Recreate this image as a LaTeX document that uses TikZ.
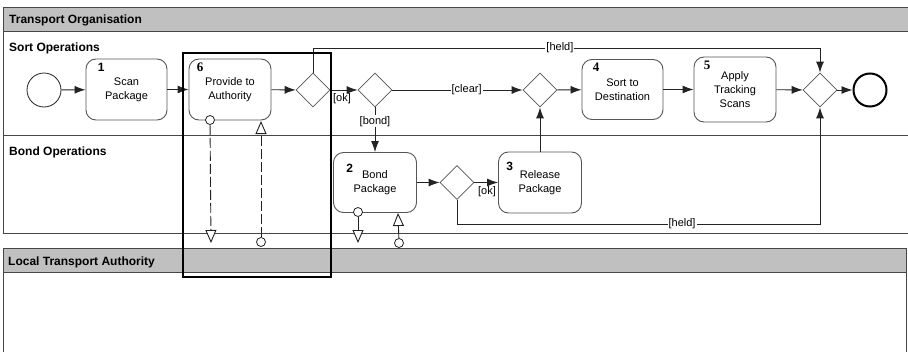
\documentclass[tikz,border=0pt]{standalone}
\usepackage{fontspec}
\setmainfont{Liberation Sans}
\newfontfamily\serifnum{Liberation Serif}
\usetikzlibrary{arrows.meta,shapes.geometric,calc}
\definecolor{headgray}{RGB}{192,192,192}
\definecolor{linegray}{RGB}{35,35,35}
\definecolor{taskgray}{RGB}{85,85,85}
\definecolor{poolgray}{RGB}{70,70,70}
\tikzset{
 lanefont/.style={font=\fontsize{12}{14}\selectfont\bfseries, anchor=base west, inner sep=0pt},
 task/.style={draw=taskgray, rounded corners=10pt, align=center, font=\fontsize{11}{14}\selectfont, inner sep=2pt, line width=0.9pt},
 gate/.style={diamond, draw=taskgray, minimum width=34pt, minimum height=34pt, inner sep=0pt, line width=0.8pt},
 flow/.style={draw=linegray, line width=0.9pt, -{Latex[length=11pt,width=8pt]}},
 lbl/.style={font=\fontsize{11}{13}\selectfont, fill=white, inner sep=1pt},
 sidelbl/.style={font=\fontsize{11}{13}\selectfont, inner sep=0pt, anchor=north},
 sansnum/.style={font=\fontsize{12}{14}\selectfont\bfseries, anchor=base west, inner sep=0pt},
 serifnumst/.style={font=\fontsize{13}{14}\selectfont\serifnum\bfseries, anchor=base west, inner sep=0pt},
 port/.style={circle, draw=linegray, fill=white, minimum size=9pt, inner sep=0pt, line width=0.8pt},
 msg/.style={draw=linegray, line width=0.9pt, -{Triangle[length=13pt,width=11pt,fill=white]}},
 msgdash/.style={msg, dash pattern=on 10pt off 3pt},
}
\begin{document}
\begin{tikzpicture}[x=1pt,y=-1pt]
\useasboundingbox (0,0) rectangle (908,351);
\clip (0,0) rectangle (908,351);
% pools and lanes
\fill[white] (0,0) rectangle (908,351);
\fill[headgray] (3,7) rectangle (912,31);
\draw[poolgray, line width=0.9pt] (3,7) rectangle (912,233);
\draw[poolgray, line width=0.9pt] (3,31) -- (912,31);
\draw[poolgray, line width=0.9pt] (3,135) -- (912,135);
\fill[headgray] (3,248) rectangle (906,272);
\draw[poolgray, line width=0.9pt] (3,248) rectangle (906,360);
\draw[poolgray, line width=0.9pt] (3,272) -- (906,272);
\node[lanefont] (lto) at (9,23) {Transport Organisation};
\node[lanefont] (lso) at (9,51) {Sort Operations};
\node[lanefont] (lbo) at (9,155) {Bond Operations};
\node[lanefont] (llta) at (8,265) {Local Transport Authority};
% events
\node[circle, draw=linegray, line width=0.8pt, minimum size=34pt, inner sep=0pt] (start) at (44,90) {};
\node[circle, draw=black, line width=2pt, minimum size=33pt, inner sep=0pt] (end) at (870,90) {};
% tasks
\node[task, minimum width=81pt, minimum height=61pt] (t1) at (126.5,89.5) {Scan\\Package};
\node[task, minimum width=82pt, minimum height=61pt] (t6) at (230,89.5) {Provide to\\Authority};
\node[task, minimum width=81pt, minimum height=60pt] (t4) at (622.5,89.5) {Sort to\\Destination};
\node[task, minimum width=82pt, minimum height=65pt] (t5) at (735,89.5) {Apply\\Tracking\\Scans};
\node[task, minimum width=83pt, minimum height=60pt] (t2) at (375,182.5) {Bond\\Package};
\node[task, minimum width=83pt, minimum height=61pt] (t3) at (540,182.5) {Release\\Package};
% numbers
\node[sansnum] (n1) at ($(t1.north west)+(12,13)$) {1};
\node[serifnumst] (n6) at ($(t6.north west)+(8,13)$) {6};
\node[serifnumst] (n4) at ($(t4.north west)+(11,12)$) {4};
\node[serifnumst] (n5) at ($(t5.north west)+(10,13)$) {5};
\node[sansnum] (n2) at ($(t2.north west)+(13,20)$) {2};
\node[sansnum] (n3) at ($(t3.north west)+(8,19)$) {3};
% gateways
\node[gate] (g1) at (313,90) {};
\node[gate] (g2) at (375,90) {};
\node[gate] (g3) at (540,90) {};
\node[gate] (g4) at (820,90) {};
\node[gate] (g5) at (457,182.5) {};
% sequence flows
\draw[flow] (g1) -- (g2);
\node[sidelbl] (lok1) at (342,93) {[ok]};
\coordinate (hA) at (313,48);
\coordinate (hB) at (820,48);
\draw[flow] (g1.north) -- (hA) -- node[lbl, pos=0.487] (lheld1) {[held]} (hB) -- (g4.north);
\draw[flow] (start) -- (t1);
\draw[flow] (t1) -- (t6);
\draw[flow] (t6) -- (g1);
\draw[flow] (g2) -- node[lbl, pos=0.57] (lclear) {[clear]} (g3);
\draw[flow] (g2) -- node[lbl, pos=0.31] (lbond) {[bond]} (t2);
\draw[flow] (g3) -- (t4);
\draw[flow] (t4) -- (t5);
\draw[flow] (t5) -- (g4);
\draw[flow] (g4) -- (end);
\draw[flow] (t2) -- (g5);
\draw[flow] (g5) -- (t3);
\node[sidelbl] (lok2) at (487,186) {[ok]};
\draw[flow] (t3) -- (g3);
\coordinate (hC) at (457,224);
\coordinate (hD) at (820,224);
\draw[flow] (g5.south) -- (hC) -- node[lbl, pos=0.62] (lheld2) {[held]} (hD) -- (g4.south);
% message / data associations
\node[port] (p1) at (210,120) {};
\coordinate (m1) at (211,243);
\draw[msgdash] (p1) -- (m1);
\node[port] (p2) at (261,242) {};
\coordinate (m2) at (261,121);
\draw[msgdash] (p2) -- (m2);
\node[port] (p3) at (358,212) {};
\coordinate (m3) at (358,243);
\draw[msg] (p3) -- (m3);
\node[port] (p4) at (399,243) {};
\coordinate (m4) at (398,213);
\draw[msg] (p4) -- (m4);
% highlight frame
\draw[black, line width=2pt] (183,53) rectangle (331,277);
\end{tikzpicture}
\end{document}
